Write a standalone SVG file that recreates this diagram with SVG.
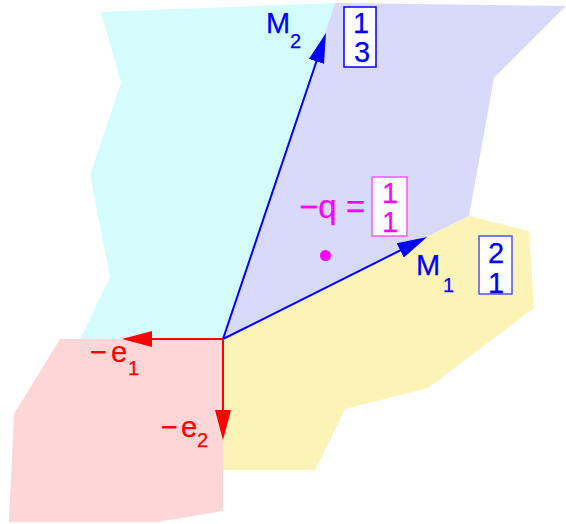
<svg xmlns="http://www.w3.org/2000/svg" width="566" height="524" viewBox="0 0 566 524">
<defs>
<style>
.t{font-family:"Liberation Sans",Arial,sans-serif;font-size:29px;stroke-width:0.25}
.sub{font-size:20px}
.blue{fill:#0000ff;stroke:#0000ff}
.red{fill:#ff0000;stroke:#ff0000}
.mag{fill:#ff00ff;stroke:#ff00ff}
.mid{text-anchor:middle}
.box{fill:#ffffff;stroke-width:1.5}
.ln{stroke-width:2;fill:none}
</style>
<marker id="ahB" markerUnits="userSpaceOnUse" viewBox="0 -9 30 18" markerWidth="30" markerHeight="18" refX="20" refY="0" orient="auto"><path d="M0,-8 L30,0 L0,8 Z" fill="#0000ff"/></marker>
<marker id="ahR" markerUnits="userSpaceOnUse" viewBox="0 -9 30 18" markerWidth="30" markerHeight="18" refX="20" refY="0" orient="auto"><path d="M0,-8 L30,0 L0,8 Z" fill="#ff0000"/></marker>
</defs>
<g id="regions">
<polygon id="cyan" points="101,12 335,3 223,339 80,339 110,277 90,175 121,83" fill="#d4fcfc"/>
<polygon id="purple" points="335,3 566,6 494,78 469,216 427,237 223,339" fill="#d9d9fc"/>
<polygon id="yellow" points="223,339 427,237 469,216 529,231 534,308 428,388 345,409 315,470 223,470" fill="#fcf3b6"/>
<polygon id="pink" points="60,339 223,339 223,511 157,522 9,522 14,414" fill="#fdd7d7"/>
</g>
<g id="connectors">
<line class="ln" x1="223" y1="339" x2="322.8" y2="42.5" stroke="#0000ff" marker-end="url(#ahB)"/>
<line class="ln" x1="223" y1="339" x2="418.1" y2="241.5" stroke="#0000ff" marker-end="url(#ahB)"/>
<line class="ln" x1="223" y1="339" x2="132" y2="339" stroke="#ff0000" marker-end="url(#ahR)"/>
<line class="ln" x1="223" y1="339" x2="223" y2="430" stroke="#ff0000" marker-end="url(#ahR)"/>
</g>
<g id="M2">
<text class="t blue" x="266" y="33">M</text>
<text class="t blue sub" x="290" y="48">2</text>
<rect class="box" x="344" y="7" width="32" height="60" stroke="#0000ff"/>
<text class="t blue mid" x="361" y="33">1</text>
<text class="t blue mid" x="362" y="62">3</text>
</g>
<g id="M1">
<text class="t blue" x="416" y="275">M</text>
<text class="t blue sub" x="443" y="292">1</text>
<rect class="box" x="479" y="236" width="33" height="58" stroke="#5050ff"/>
<text class="t blue mid" x="496" y="263">2</text>
<text class="t blue mid" x="496" y="293">1</text>
</g>
<g id="q">
<text class="t mag" x="299" y="218" style="font-size:33px">−q</text>
<text class="t mag" x="346" y="218" style="font-size:33px">=</text>
<rect class="box" x="372" y="177" width="35" height="59" stroke="#ff55ff"/>
<text class="t mag mid" x="390" y="203">1</text>
<text class="t mag mid" x="390" y="232">1</text>
<circle cx="325.5" cy="255.5" r="5.5" fill="#ff00ff"/>
</g>
<g id="e1">
<text class="t red" x="90" y="362">−</text>
<text class="t red" x="111" y="362">e</text>
<text class="t red sub" x="128" y="375">1</text>
</g>
<g id="e2">
<text class="t red" x="161" y="437">−</text>
<text class="t red" x="181" y="437">e</text>
<text class="t red sub" x="197" y="447">2</text>
</g>
</svg>
